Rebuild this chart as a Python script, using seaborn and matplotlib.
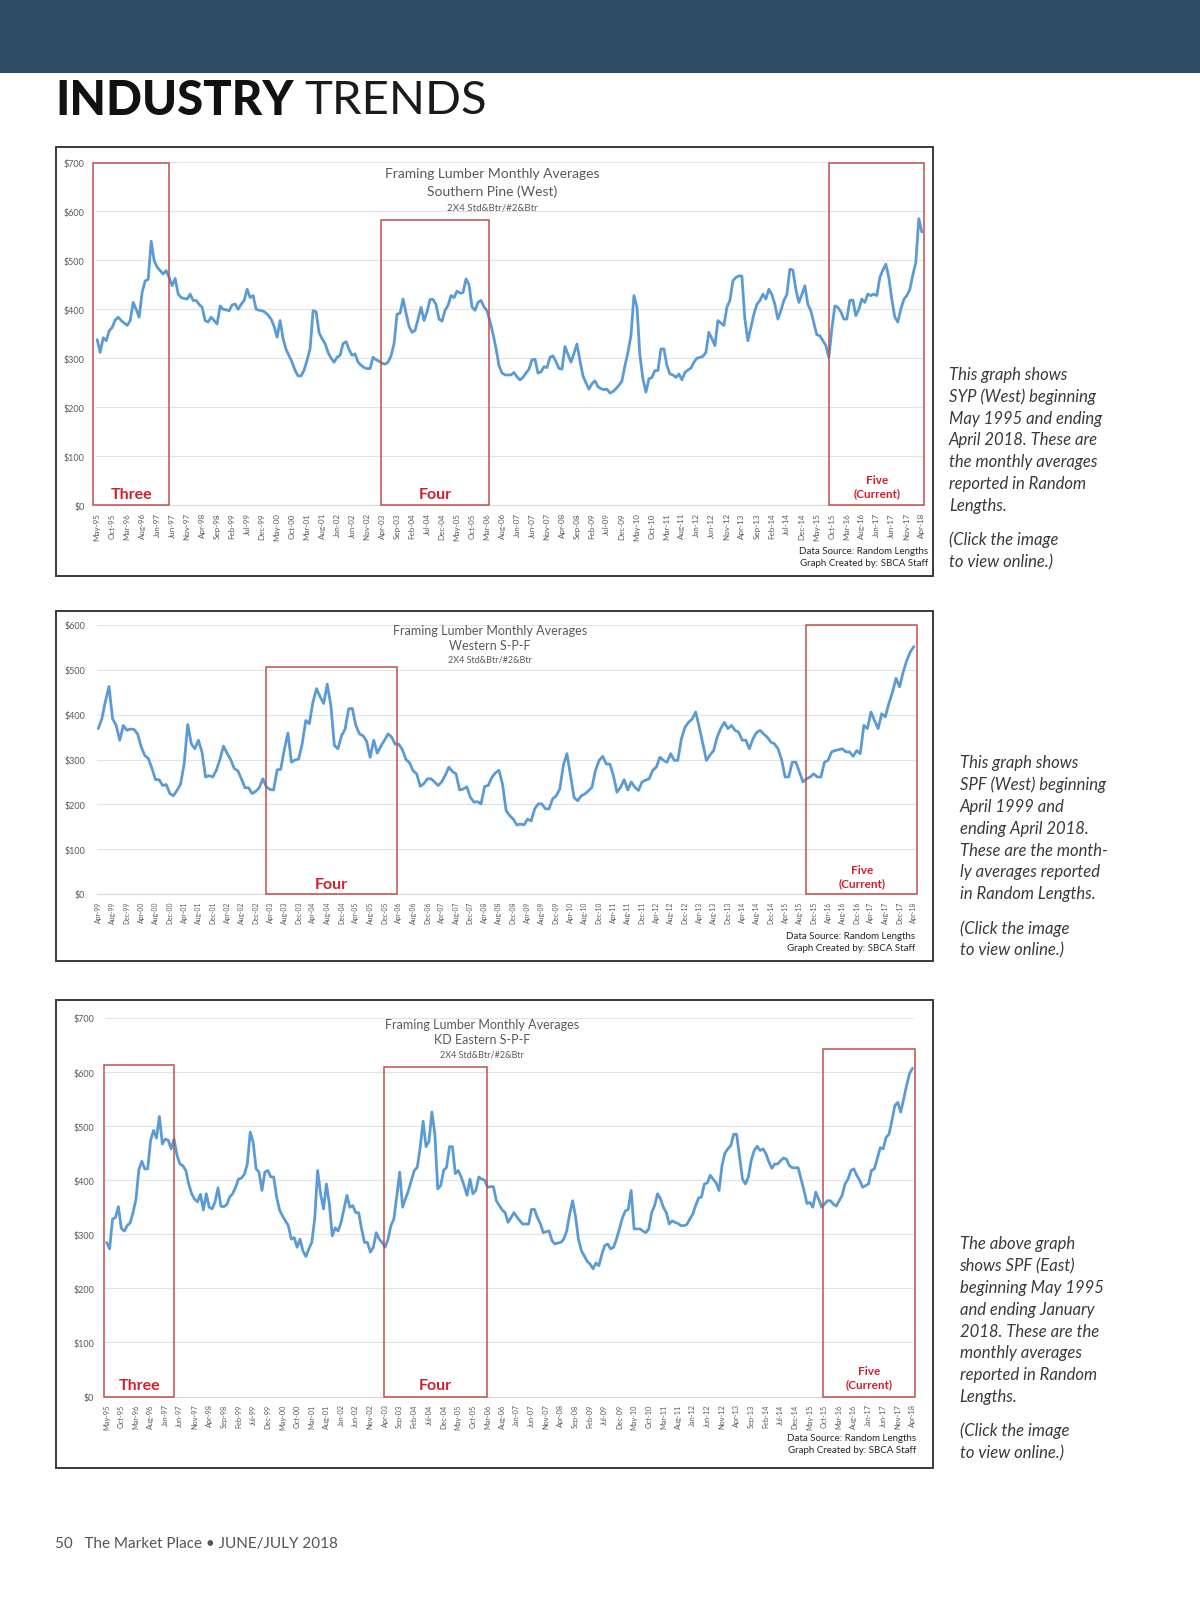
import numpy as np
import pandas as pd
import matplotlib
matplotlib.use("Agg")
import matplotlib.pyplot as plt
import seaborn as sns
from matplotlib.patches import Rectangle

# ---------------- DATA ----------------
syp_west = [338, 312, 342, 336, 356, 363, 378, 384, 377, 372, 367, 377, 414, 400, 384, 435, 458, 461, 539, 499,
            486, 479, 472, 479, 465, 448, 463, 431, 424, 422, 421, 431, 418, 418, 410, 404, 377, 374, 384, 377,
            370, 407, 400, 399, 397, 409, 411, 400, 410, 418, 441, 424, 428, 400, 398, 397, 394, 388, 380, 365,
            343, 377, 340, 318, 305, 292, 275, 264, 264, 276, 296, 320, 397, 395, 352, 340, 330, 312, 300, 292,
            302, 306, 330, 334, 318, 306, 309, 292, 286, 281, 279, 279, 302, 297, 294, 290, 288, 292, 305, 330,
            390, 392, 421, 392, 365, 353, 357, 380, 404, 377, 395, 420, 420, 410, 380, 376, 398, 408, 428, 424,
            437, 433, 434, 462, 450, 405, 398, 414, 418, 405, 397, 375, 350, 320, 285, 270, 266, 266, 266, 271,
            262, 256, 261, 270, 278, 297, 298, 270, 272, 283, 281, 302, 305, 293, 279, 278, 324, 308, 292, 310,
            329, 295, 264, 250, 237, 248, 254, 242, 238, 236, 237, 229, 232, 238, 245, 254, 285, 312, 346, 428,
            405, 305, 258, 231, 258, 261, 275, 275, 319, 319, 285, 268, 266, 261, 268, 256, 271, 276, 280, 292,
            300, 302, 304, 312, 353, 340, 326, 377, 372, 367, 404, 418, 458, 465, 468, 468, 380, 336, 363, 390,
            410, 418, 431, 421, 441, 430, 410, 380, 397, 418, 430, 482, 480, 440, 414, 430, 448, 410, 397, 372,
            348, 346, 336, 326, 302, 360, 407, 404, 395, 380, 380, 418, 419, 387, 400, 421, 414, 431, 428, 431,
            428, 465, 480, 492, 465, 420, 384, 374, 400, 420, 428, 440, 470, 495, 585, 558]

spf_west = [369, 391, 430, 463, 391, 376, 343, 376, 365, 368, 367, 357, 328, 309, 302, 280, 255, 255, 242, 244,
            224, 219, 231, 245, 290, 378, 335, 324, 343, 316, 261, 264, 261, 276, 300, 330, 314, 300, 280, 275,
            257, 237, 237, 224, 229, 237, 257, 239, 233, 232, 277, 278, 322, 359, 294, 299, 301, 335, 387, 380,
            428, 458, 440, 425, 468, 421, 331, 324, 353, 368, 413, 414, 376, 357, 353, 341, 305, 343, 314, 330,
            343, 357, 350, 334, 334, 322, 300, 293, 275, 268, 240, 246, 257, 257, 250, 242, 250, 265, 283, 273,
            268, 232, 234, 239, 216, 205, 206, 201, 240, 242, 260, 270, 276, 245, 186, 175, 167, 154, 156, 154,
            167, 163, 190, 201, 201, 190, 190, 212, 219, 234, 287, 313, 265, 215, 208, 219, 223, 230, 238, 276,
            298, 307, 290, 290, 264, 227, 238, 255, 232, 250, 238, 231, 250, 254, 257, 276, 283, 305, 298, 294,
            313, 298, 298, 346, 372, 383, 390, 406, 372, 335, 298, 310, 320, 350, 369, 383, 369, 376, 365, 361,
            343, 343, 324, 346, 360, 365, 357, 350, 339, 335, 324, 300, 261, 261, 294, 294, 272, 250, 257, 261,
            268, 261, 261, 294, 298, 317, 320, 322, 324, 317, 317, 307, 320, 313, 376, 369, 406, 387, 369, 402,
            395, 425, 450, 481, 462, 495, 521, 540, 552]

spf_east = [285, 273, 328, 331, 351, 311, 306, 316, 321, 340, 365, 420, 435, 421, 421, 474, 492, 478, 518, 467,
            476, 474, 458, 476, 446, 430, 427, 418, 393, 375, 365, 360, 374, 345, 375, 350, 347, 360, 386, 352,
            351, 355, 369, 375, 387, 402, 404, 411, 430, 489, 470, 421, 415, 381, 415, 418, 406, 406, 369, 345,
            334, 325, 316, 291, 294, 276, 291, 269, 259, 273, 285, 328, 418, 375, 347, 393, 356, 297, 312, 306,
            322, 347, 372, 350, 353, 340, 340, 310, 285, 285, 267, 276, 303, 291, 285, 276, 290, 316, 328, 370,
            415, 350, 366, 381, 400, 418, 424, 460, 509, 462, 472, 526, 486, 384, 390, 418, 424, 462, 462, 412,
            418, 406, 390, 372, 402, 375, 381, 406, 402, 400, 387, 388, 388, 362, 353, 345, 340, 322, 331, 340,
            332, 325, 319, 319, 319, 346, 346, 331, 320, 303, 305, 306, 288, 282, 284, 285, 291, 306, 337, 362,
            334, 291, 270, 260, 250, 245, 236, 247, 242, 263, 279, 282, 273, 276, 291, 310, 330, 343, 346, 381,
            310, 310, 310, 306, 303, 310, 340, 353, 375, 366, 350, 340, 319, 325, 322, 320, 316, 316, 318, 328,
            337, 353, 367, 369, 393, 395, 409, 402, 395, 381, 427, 450, 458, 464, 485, 485, 443, 402, 393, 406,
            437, 455, 463, 455, 458, 449, 434, 422, 430, 430, 436, 441, 439, 427, 423, 423, 423, 402, 381, 357,
            359, 350, 378, 365, 350, 356, 362, 362, 356, 352, 362, 372, 393, 402, 418, 421, 409, 400, 387, 390,
            393, 418, 421, 440, 460, 458, 479, 485, 510, 538, 544, 526, 550, 575, 597, 607]

titles = [("Framing Lumber Monthly Averages", "Southern Pine (West)", "2X4 Std&Btr/#2&Btr"),
          ("Framing Lumber Monthly Averages", "Western S-P-F", "2X4 Std&Btr/#2&Btr"),
          ("Framing Lumber Monthly Averages", "KD Eastern S-P-F", "2X4 Std&Btr/#2&Btr")]
starts = ["1995-05", "1999-04", "1995-05"]
label_steps = [5, 4, 5]
y_max = [700, 600, 700]
y_step = 100

# period boxes: (label, first month index, last month index, top value)
boxes = [
    [("Three", -1.3, 24.0, 698), ("Four", 94.7, 130.5, 582), ("Five\n(Current)", 244.2, 275.8, 698)],
    [("Four", 46.9, 83.4, 506), ("Five\n(Current)", 197.8, 229.0, 599)],
    [("Three", -0.8, 23.1, 614), ("Four", 94.5, 129.9, 609), ("Five\n(Current)", 244.6, 276.0, 642)],
]

side_texts = [
    ["This graph shows", "SYP (West) beginning", "May 1995 and ending", "April 2018. These are",
     "the monthly averages", "reported in Random", "Lengths."],
    ["This graph shows", "SPF (West) beginning", "April 1999 and", "ending April 2018.",
     "These are the month-", "ly averages reported", "in Random Lengths."],
    ["The above graph", "shows SPF (East)", "beginning May 1995", "and ending January",
     "2018. These are the", "monthly averages", "reported in Random", "Lengths."],
]
click_text = ["(Click the image", "to view online.)"]
credits = ["Data Source: Random Lengths", "Graph Created by: SBCA Staff"]
series = [syp_west, spf_west, spf_east]

# ---------------- STYLE / LAYOUT ----------------
sns.set_theme(style="white")
plt.rcParams['font.family'] = ['Lato', 'DejaVu Sans']

W, H = 1200, 1606
fig = plt.figure(figsize=(W / 100, H / 100), dpi=100)
fig.patch.set_facecolor("white")


def fig_rect(x0, y0, x1, y1, **kw):
    fig.patches.append(Rectangle((x0 / W, 1 - y1 / H), (x1 - x0) / W, (y1 - y0) / H,
                                 transform=fig.transFigure, **kw))


def ftext(x, y, s, **kw):
    fig.text(x / W, 1 - y / H, s, **kw)


# header bar
fig_rect(0, 0, W, 73.7, facecolor="#2e4a62", edgecolor="none")
ftext(55, 101, "INDUSTRY", fontsize=34, fontweight="black", color="#111111", va="center", ha="left")
ftext(304, 101, "TRENDS", fontsize=34, fontweight="normal", color="#1a1a1a", va="center", ha="left")

# chart geometry in pixels: frame, axes (x0,x1,ytop,ybottom)
frames = [(56, 148, 933, 577), (56, 612, 933, 961.5), (56, 1000.5, 933, 1468.5)]
axes_px = [(95.7, 923.3, 163.3, 506.3), (96.5, 915.7, 626.0, 895.0), (105.2, 913.9, 1019.0, 1397.5)]
title_pos = [(492, 174, 192, 208), (490, 631, 646, 660), (482, 1024.7, 1039.7, 1054.7)]
title_sizes = [(10, 10, 7), (9, 9, 6.5), (9, 9, 6.5)]
tick_sizes = [5.8, 4.9, 5.3]
credit_pos = [(928, 552, 564), (915.5, 937, 948.5), (916.5, 1438.5, 1450.5)]
side_pos = [(949, 374.8), (959.5, 763.0), (959.5, 1244.0)]
line_gap = 21.9

blue = "#5b9bd5"
red_box = "#c0504d"
red_txt = "#d0202e"
grey_txt = "#595959"

for i in range(3):
    fx0, fy0, fx1, fy1 = frames[i]
    fig_rect(fx0, fy0, fx1, fy1, facecolor="none", edgecolor="#3a3a3a", linewidth=1.4, zorder=5)

    ax0, ax1, ayt, ayb = axes_px[i]
    ax = fig.add_axes([ax0 / W, 1 - ayb / H, (ax1 - ax0) / W, (ayb - ayt) / H])
    vals = series[i]
    n = len(vals)
    dates = pd.date_range(starts[i], periods=n, freq="MS")
    df = pd.DataFrame({"idx": np.arange(n), "price": vals})
    sns.lineplot(data=df, x="idx", y="price", ax=ax, color=blue, linewidth=2.0)

    ax.set_xlim(-0.5, n - 0.5)
    ax.set_ylim(0, y_max[i])
    ax.set_facecolor("none")
    for sp in ["top", "right", "left"]:
        ax.spines[sp].set_visible(False)
    ax.spines["bottom"].set_color("#d9d9d9")
    ax.spines["bottom"].set_linewidth(0.8)
    yt = np.arange(0, y_max[i] + 1, y_step)
    ax.set_yticks(yt)
    ax.set_yticklabels([f"${v}" for v in yt], fontsize=6.5, color=grey_txt)
    ax.yaxis.grid(True, color="#e3e3e3", linewidth=0.8)
    ax.set_axisbelow(True)
    xt = np.arange(0, n, label_steps[i])
    ax.set_xticks(xt)
    ax.set_xticklabels(dates[xt].strftime("%b-%y"), rotation=90, fontsize=tick_sizes[i], color=grey_txt)
    ax.tick_params(axis="both", length=0)
    ax.tick_params(axis="x", pad=5)
    ax.tick_params(axis="y", pad=8)
    ax.set_xlabel("")
    ax.set_ylabel("")

    # period boxes
    for lab, m0, m1, top in boxes[i]:
        ax.add_patch(Rectangle((m0, 0), m1 - m0, top, fill=False, edgecolor=red_box,
                               linewidth=1.1, clip_on=False, zorder=4))
        if lab.startswith("Five"):
            ax.text((m0 + m1) / 2, y_max[i] * 0.02, lab, ha="center", va="bottom", color=red_txt,
                    fontsize=8.5, fontweight="bold", linespacing=1.25)
        else:
            ax.text((m0 + m1) / 2, y_max[i] * 0.012, lab, ha="center", va="bottom", color=red_txt,
                    fontsize=11.5, fontweight="bold")

    # titles
    tx, t1, t2, t3 = title_pos[i]
    s1, s2, s3 = title_sizes[i]
    ftext(tx, t1, titles[i][0], fontsize=s1, color=grey_txt, ha="center", va="center")
    ftext(tx, t2, titles[i][1], fontsize=s2, color=grey_txt, ha="center", va="center")
    ftext(tx, t3, titles[i][2], fontsize=s3, color=grey_txt, ha="center", va="center")

    cx, c1, c2 = credit_pos[i]
    ftext(cx, c1, credits[0], fontsize=7, color="#262626", ha="right", va="center")
    ftext(cx, c2, credits[1], fontsize=7, color="#262626", ha="right", va="center")

    sx, sy = side_pos[i]
    lines = side_texts[i]
    for k, s in enumerate(lines):
        ftext(sx, sy + k * line_gap, s, fontsize=12, fontstyle="italic", fontweight="normal",
              color="#3a3a3a", ha="left", va="center")
    cy = sy + len(lines) * line_gap + 12
    for k, s in enumerate(click_text):
        ftext(sx, cy + k * line_gap, s, fontsize=12, fontstyle="italic", fontweight="normal",
              color="#3a3a3a", ha="left", va="center")

# footer
ftext(55, 1544, "50   The Market Place \u2022 JUNE/JULY 2018", fontsize=11, color="#555555",
      ha="left", va="center")

fig.savefig("out.png", dpi=100)
